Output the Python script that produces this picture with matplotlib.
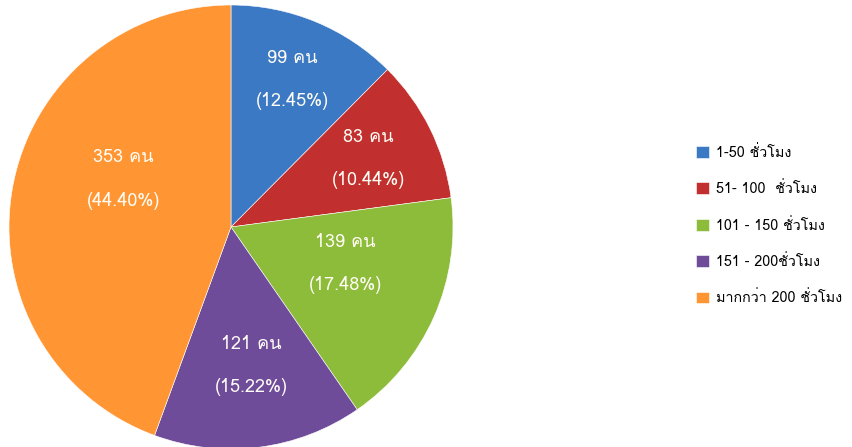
import matplotlib
matplotlib.use("Agg")
import matplotlib.pyplot as plt
import numpy as np

# ---- data ----
categories = ["1-50 ชั่วโมง", "51- 100  ชั่วโมง", "101 - 150 ชั่วโมง",
              "151 - 200ชั่วโมง", "มากกว่า 200 ชั่วโมง"]
counts = [99, 83, 139, 121, 353]
percents = ["12.45%", "10.44%", "17.48%", "15.22%", "44.40%"]
colors = ["#3C79C5", "#C1302E", "#8DBB3A", "#6F4C9A", "#FF9633"]

plt.rcParams["font.family"] = ["Loma", "DejaVu Sans"]

fig = plt.figure(figsize=(8.52, 4.47), dpi=100)
W, H = 852, 447
cx, cy, r = 231, 227, 222
ax = fig.add_axes([(cx - r) / W, 1 - (cy + r) / H, 2 * r / W, 2 * r / H])
wedges, _ = ax.pie(counts, colors=colors, startangle=90, counterclock=False,
                   radius=1.0, wedgeprops=dict(edgecolor="white", linewidth=0.4))
ax.set_xlim(-1, 1)
ax.set_ylim(-1, 1)
ax.set_aspect("equal")

label_r = [0.72, 0.69, 0.54, 0.63, 0.53]
angle_off = [0, 0, 6, 1, -14]
for w, c, p, lr, ao in zip(wedges, counts, percents, label_r, angle_off):
    th = np.deg2rad((w.theta1 + w.theta2) / 2 + ao)
    x, y = lr * np.cos(th), lr * np.sin(th)
    ax.text(x, y + 0.097, f"{c} คน", color="#FFFDF5", ha="center", va="center", fontsize=13)
    ax.text(x, y - 0.097, f"({p})", color="#FFFDF5", ha="center", va="center", fontsize=13)

leg = fig.legend(wedges, categories, loc="upper left",
                 bbox_to_anchor=(683 / W, 1 - 132 / H), frameon=False,
                 fontsize=10.3, handlelength=0.9, handleheight=0.9,
                 labelspacing=1.5, handletextpad=0.5)
fig.savefig("out.png", dpi=100)
